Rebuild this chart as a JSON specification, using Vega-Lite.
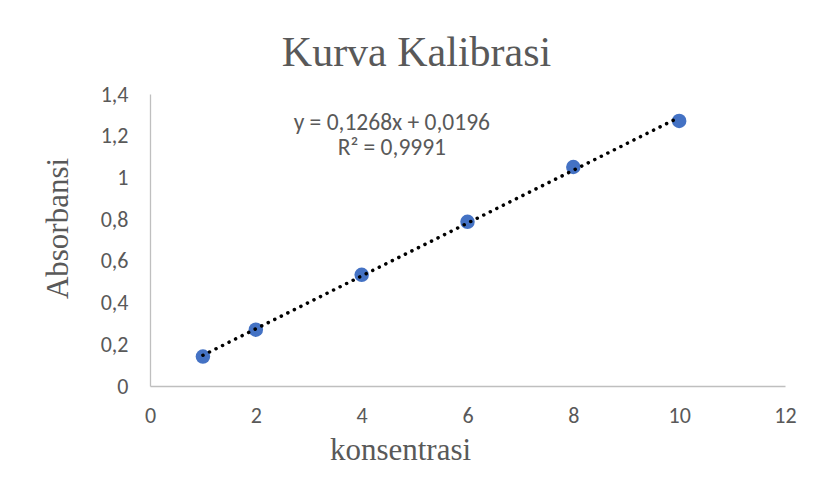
{
  "$schema": "https://vega.github.io/schema/vega-lite/v6.json",
  "width": 635,
  "height": 292,
  "autosize": {"type": "none"},
  "padding": {"left": 150, "top": 94, "right": 28, "bottom": 93},
  "background": "white",
  "config": {
    "view": {"stroke": null},
    "font": "Carlito, Open Sans"
  },
  "title": {
    "text": "Kurva Kalibrasi",
    "font": "Liberation Serif",
    "fontSize": 42,
    "fontWeight": "normal",
    "color": "#595959",
    "anchor": "middle",
    "frame": "group",
    "dx": -51,
    "baseline": "alphabetic",
    "offset": -25
  },
  "data": {
    "values": [
      {"konsentrasi": 1, "absorbansi": 0.141},
      {"konsentrasi": 2, "absorbansi": 0.27},
      {"konsentrasi": 4, "absorbansi": 0.533},
      {"konsentrasi": 6, "absorbansi": 0.787},
      {"konsentrasi": 8, "absorbansi": 1.05},
      {"konsentrasi": 10, "absorbansi": 1.271}
    ]
  },
  "encoding": {
    "x": {
      "field": "konsentrasi",
      "type": "quantitative",
      "scale": {"domain": [0, 12]},
      "axis": {
        "title": "konsentrasi",
        "values": [0, 2, 4, 6, 8, 10, 12],
        "grid": false,
        "ticks": false,
        "labelFlush": false,
        "domainColor": "#BFBFBF",
        "domainWidth": 1.3,
        "labelFont": "Carlito, Open Sans",
        "labelFontSize": 22,
        "labelColor": "#595959",
        "labelPadding": 19,
        "titleFont": "Liberation Serif",
        "titleFontSize": 31,
        "titleFontWeight": "normal",
        "titleColor": "#595959",
        "titleX": 250,
        "titleY": 73,
        "titleAlign": "center",
        "titleBaseline": "alphabetic"
      }
    },
    "y": {
      "field": "absorbansi",
      "type": "quantitative",
      "scale": {"domain": [0, 1.4]},
      "axis": {
        "title": "Absorbansi",
        "values": [0, 0.2, 0.4, 0.6, 0.8, 1, 1.2, 1.4],
        "labelExpr": "replace(format(datum.value, '~g'), '.', ',')",
        "grid": false,
        "ticks": false,
        "labelFlush": false,
        "domainColor": "#BFBFBF",
        "domainWidth": 1.3,
        "labelFont": "Carlito, Open Sans",
        "labelFontSize": 22,
        "labelColor": "#595959",
        "labelPadding": 22,
        "titleFont": "Liberation Serif",
        "titleFontSize": 31,
        "titleFontWeight": "normal",
        "titleColor": "#595959",
        "titleAngle": -90,
        "titleX": -83,
        "titleY": 134,
        "titleAlign": "center",
        "titleBaseline": "alphabetic"
      }
    }
  },
  "layer": [
    {
      "mark": {"type": "point", "filled": true, "opacity": 1, "color": "#4472C4", "size": 210}
    },
    {
      "transform": [{"regression": "absorbansi", "on": "konsentrasi"}],
      "mark": {"type": "line", "color": "black", "strokeWidth": 3.5, "strokeCap": "round", "strokeDash": [0.1, 7.2]}
    },
    {
      "transform": [{"filter": "datum.konsentrasi == 10"}],
      "mark": {"type": "text", "font": "Carlito, Open Sans", "fontSize": 23.5, "fontWeight": "normal", "color": "#595959", "align": "center", "baseline": "alphabetic", "lineHeight": 25},
      "encoding": {
        "x": {"datum": 4.57},
        "y": {"datum": 1.227},
        "text": {"value": ["y = 0,1268x + 0,0196", "R² = 0,9991"]}
      }
    }
  ]
}
